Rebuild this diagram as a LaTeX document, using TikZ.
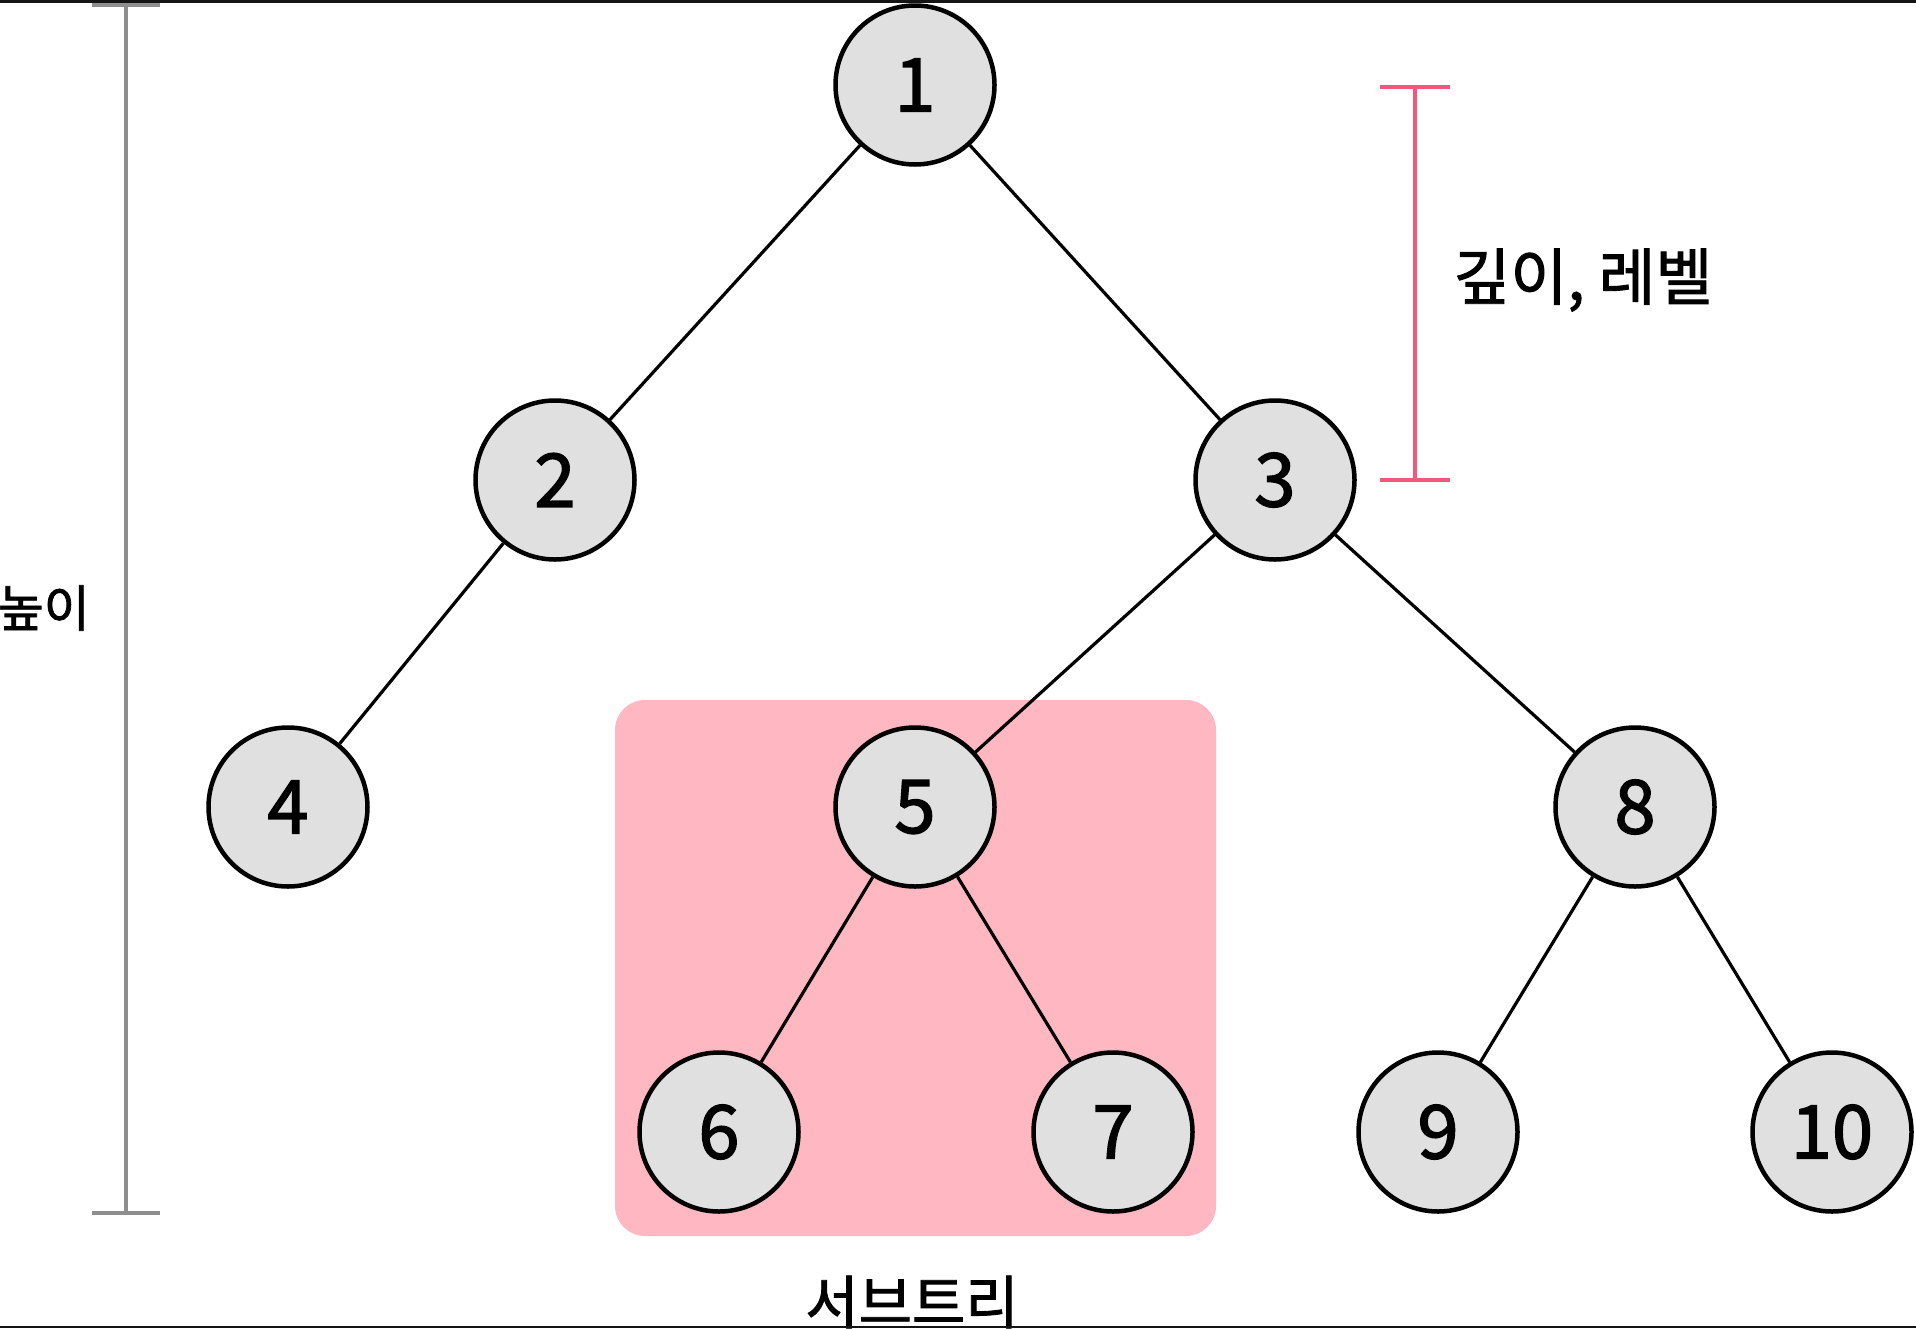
\documentclass[tikz,border=0pt]{standalone}
\usepackage{fontspec}
\setmainfont{Noto Sans CJK KR}
\newfontfamily\krfont[FakeBold=1.5]{Noto Sans CJK KR}
\newfontfamily\digitfont[FakeBold=2]{Noto Sans CJK KR}
\definecolor{nodefill}{HTML}{E0E0E0}
\definecolor{subpink}{HTML}{FFB7C1}
\definecolor{depthpink}{HTML}{F2587C}
\definecolor{heightgray}{HTML}{8E8E8E}
\tikzset{
  treenode/.style={circle, draw=black, fill=nodefill, line width=4.5pt, minimum size=159pt, inner sep=0pt, font=\digitfont\fontsize{74}{78}\selectfont},
  treeedge/.style={draw=black, line width=3.2pt},
  txtlabel/.style={font=\krfont\fontsize{58}{62}\selectfont, text=black, inner sep=0pt},
  heightbar/.style={draw=heightgray, line width=4pt},
  depthbar/.style={draw=depthpink, line width=3.5pt}
}
\begin{document}
\begin{tikzpicture}[x=1pt,y=-1pt]
\useasboundingbox (0,0) rectangle (1916,1328);
\fill[white] (0,0) rectangle (1916,1328);
% subtree highlight
\fill[subpink, rounded corners=30pt] (615,700) rectangle (1216,1236);
% nodes
\node[treenode] (n1) at (915,85) {1};
\node[treenode] (n2) at (555,480) {2};
\node[treenode] (n3) at (1275,480) {3};
\node[treenode] (n4) at (288,807) {4};
\node[treenode] (n5) at (915,807) {5};
\node[treenode] (n8) at (1635,807) {8};
\node[treenode] (n6) at (719,1132) {6};
\node[treenode] (n7) at (1113,1132) {7};
\node[treenode] (n9) at (1438,1132) {9};
\node[treenode] (n10) at (1832,1132) {10};
% edges
\draw[treeedge] (n1) -- (n2);
\draw[treeedge] (n1) -- (n3);
\draw[treeedge] (n2) -- (n4);
\draw[treeedge] (n3) -- (n5);
\draw[treeedge] (n3) -- (n8);
\draw[treeedge] (n5) -- (n6);
\draw[treeedge] (n5) -- (n7);
\draw[treeedge] (n8) -- (n9);
\draw[treeedge] (n8) -- (n10);
% height bar
\coordinate (hT) at (126,5);
\coordinate (hB) at (126,1213);
\draw[heightbar] (hT) -- (hB);
\draw[heightbar] ([xshift=-34pt]hT) -- ([xshift=34pt]hT);
\draw[heightbar] ([xshift=-34pt]hB) -- ([xshift=34pt]hB);
\node[txtlabel, font=\krfont\fontsize{50}{54}\selectfont, anchor=east] (hlabel) at (90,608) {높이};
% depth bar
\coordinate (dT) at (1415,87);
\coordinate (dB) at (1415,480);
\draw[depthbar] (dT) -- (dB);
\draw[depthbar] ([xshift=-35pt]dT) -- ([xshift=35pt]dT);
\draw[depthbar] ([xshift=-35pt]dB) -- ([xshift=35pt]dB);
\node[txtlabel, font=\krfont\fontsize{62}{66}\selectfont] (dlabel) at (1583,280) {깊이, 레벨};
% subtree label
\node[txtlabel] (slabel) at (912,1302) {서브트리};
% frame strips
\fill[black!92] (0,0) rectangle (1916,3);
\fill[black!92] (0,1326) rectangle (1916,1328);
\end{tikzpicture}
\end{document}
